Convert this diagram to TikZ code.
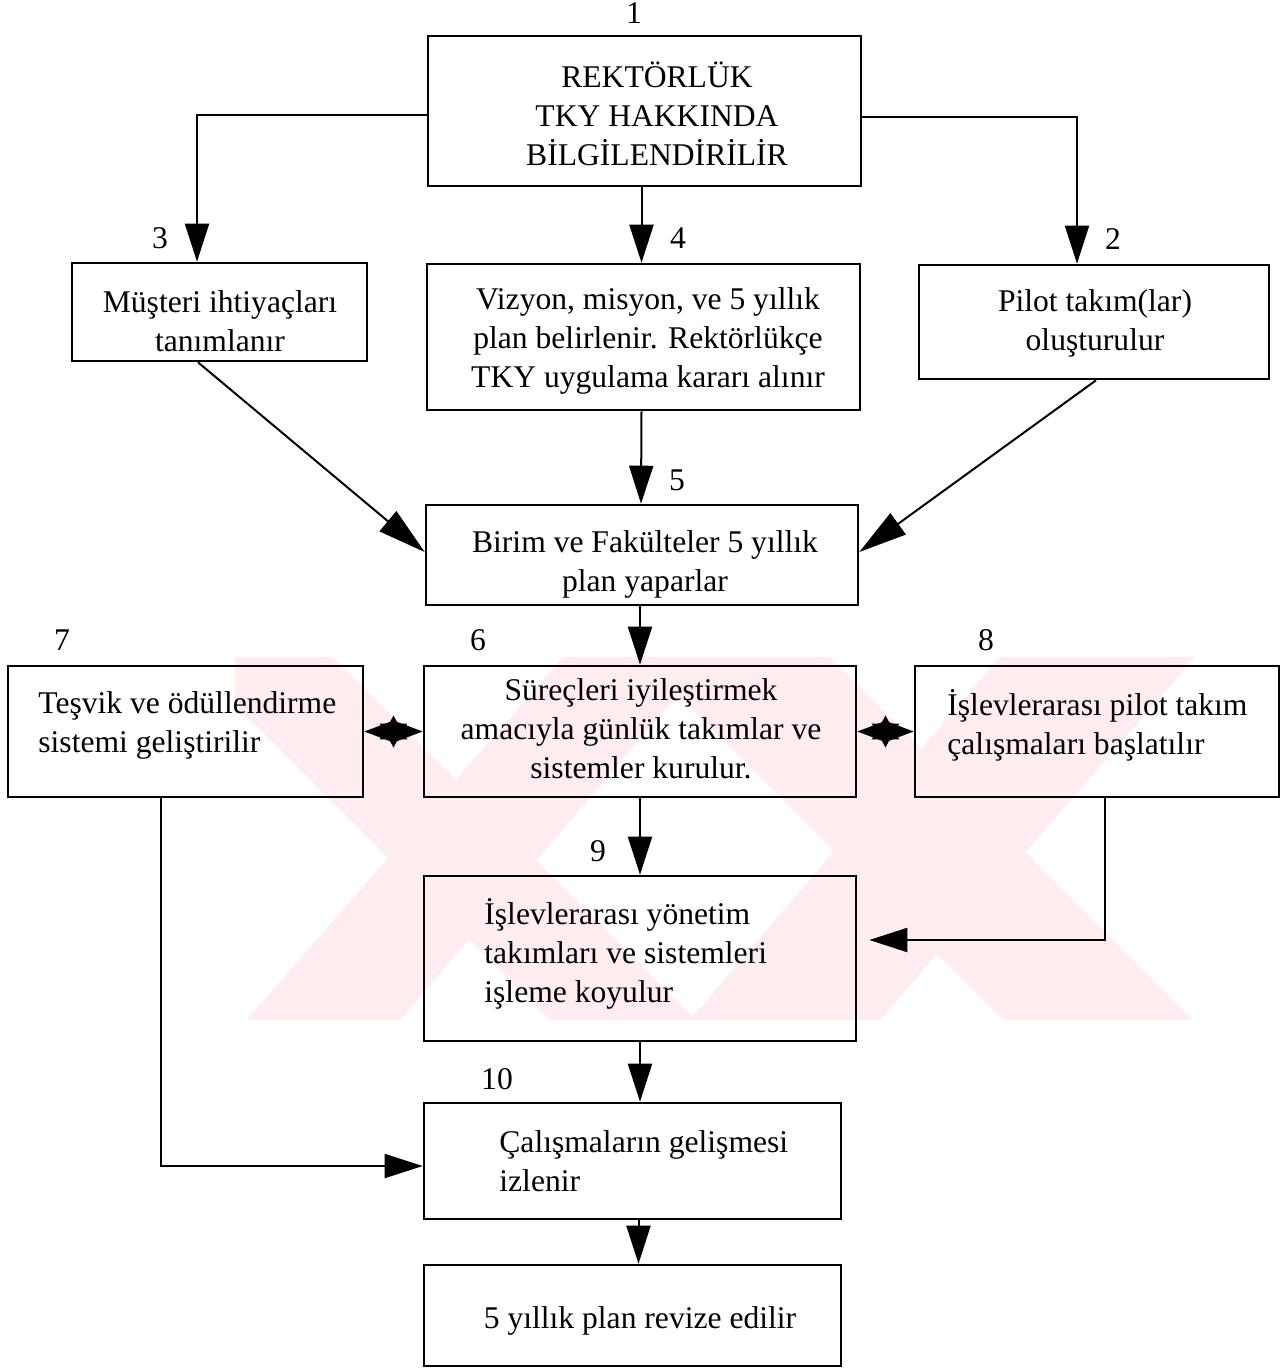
\documentclass[tikz,border=0pt]{standalone}
\usepackage{fontspec}
\setmainfont{Liberation Serif}
\usetikzlibrary{arrows.meta,shapes.geometric}
\definecolor{wmpink}{RGB}{254,236,239}
\begin{document}
\begin{tikzpicture}[x=0.5pt,y=-0.5pt,
  box/.style={draw, line width=1.3pt, inner sep=0pt},
  lbl/.style={font=\fontsize{15.8pt}{19.5pt}\selectfont, inner sep=0pt, align=center},
  lbll/.style={font=\fontsize{15.8pt}{19.5pt}\selectfont, inner sep=0pt, align=left, anchor=west},
  num/.style={font=\fontsize{15.8pt}{19.5pt}\selectfont, inner sep=0pt},
  link/.style={line width=1pt, -{Triangle[length=19pt,width=12pt]}},
  slant/.style={line width=1pt, -{Triangle[length=24pt,width=13pt]}},
  twoway/.style={line width=1pt, {Triangle[length=15pt,width=11pt]}-{Triangle[length=15pt,width=11pt]}},
  burst/.style={star, star points=6, star point ratio=1.8, fill, draw=none, inner sep=0pt, minimum size=16pt}]
\useasboundingbox (0,0) rectangle (1287,1371);
\fill[white] (0,0) rectangle (1287,1371);

% pale background emblem
\begin{scope}
  \clip (235,657) rectangle (1195,1020);
  \fill[wmpink] (187,657) -- (333,657) -- (696,1020) -- (550,1020) -- cycle;
  \fill[wmpink] (563,657) -- (710,657) -- (400,1020) -- (247,1020) -- cycle;
  \fill[wmpink] (640,657) -- (830,657) -- (1193,1020) -- (1003,1020) -- cycle;
  \fill[wmpink] (1000,657) -- (1195,657) -- (880,1020) -- (690,1020) -- cycle;
\end{scope}

% boxes
\node[box, minimum width=216.5pt, minimum height=75pt]   (b1)  at (644.5,111) {};
\node[box, minimum width=147.5pt, minimum height=49pt]   (b3)  at (219.5,312) {};
\node[box, minimum width=216.5pt, minimum height=73pt]   (b4)  at (643.5,337) {};
\node[box, minimum width=175pt,   minimum height=57pt]   (b2)  at (1094,322) {};
\node[box, minimum width=216pt,   minimum height=50pt]   (b5)  at (642,555) {};
\node[box, minimum width=177.5pt, minimum height=65.5pt] (b7)  at (185.5,731.5) {};
\node[box, minimum width=216pt,   minimum height=65.5pt] (b6)  at (640,731.5) {};
\node[box, minimum width=182pt,   minimum height=65.5pt] (b8)  at (1097,731.5) {};
\node[box, minimum width=216pt,   minimum height=82.5pt] (b9)  at (640,958.5) {};
\node[box, minimum width=208.5pt, minimum height=58pt]   (b10) at (632.5,1161) {};
\node[box, minimum width=208.5pt, minimum height=50.5pt] (b11) at (632.5,1315.5) {};

% box texts
\node[lbl] (t1) at (657,114) {REKTÖRLÜK\\TKY HAKKINDA\\BİLGİLENDİRİLİR};
\node[lbl] (t3) at (220,321) {Müşteri ihtiyaçları\\tanımlanır};
\node[lbl] (t4) at (648,341) {Vizyon, misyon, ve 5 yıllık\\plan belirlenir. Rektörlükçe\\TKY uygulama kararı alınır};
\node[lbl] (t2) at (1095,323) {Pilot takım(lar)\\oluşturulur};
\node[lbl] (t5) at (645,564) {Birim ve Fakülteler 5 yıllık\\plan yaparlar};
\node[lbll] (t7) at (38,725) {Teşvik ve ödüllendirme\\sistemi geliştirilir};
\node[lbl] (t6) at (641,729) {Süreçleri iyileştirmek\\amacıyla günlük takımlar ve\\sistemler kurulur.};
\node[lbll] (t8) at (947,725) {İşlevlerarası pilot takım\\çalışmaları başlatılır};
\node[lbll] (t9) at (484,954) {İşlevlerarası yönetim\\takımları ve sistemleri\\işleme koyulur};
\node[lbll] (t10) at (499,1161) {Çalışmaların gelişmesi\\izlenir};
\node[lbl] (t11) at (640,1321) {5 yıllık plan revize edilir};

% step numbers
\node[num] (n1)  at (634,13)   {1};
\node[num] (n3)  at (160,238)  {3};
\node[num] (n4)  at (678,238)  {4};
\node[num] (n2)  at (1113,239) {2};
\node[num] (n5)  at (677,480)  {5};
\node[num] (n7)  at (62,640)   {7};
\node[num] (n6)  at (478,640)  {6};
\node[num] (n8)  at (986,640)  {8};
\node[num] (n9)  at (598,851)  {9};
\node[num] (n10) at (497,1079) {10};

% connectors
\draw[link] ([yshift=-2pt]b1.west) -| ([xshift=-11.25pt]b3.north);
\draw[link] ([yshift=-3pt]b1.east) -| ([xshift=-8.5pt]b2.north);
\draw[link] ([xshift=-1.5pt]b1.south) -- ([xshift=-1pt]b4.north);
\draw[slant] ([xshift=-10.75pt]b3.south) -- ([yshift=1.5pt]b5.west);
\draw[slant] ([xshift=1pt]b2.south) -- ([yshift=1.5pt]b5.east);
\draw[link] ([xshift=-1pt]b4.south) -- ([xshift=-0.5pt]b5.north);
\draw[link] ([xshift=-1pt]b5.south) -- (b6.north);
\draw[twoway] (b7.east) -- node[burst] (s76) {} (b6.west);
\draw[twoway] (b6.east) -- node[burst] (s68) {} (b8.west);
\draw[link] (b6.south) -- (b9.north);
\draw[link] ([xshift=4pt]b8.south) |- ([xshift=6pt,yshift=9.25pt]b9.east);
\draw[link] (b9.south) -- (b9.south |- b10.north);
\draw[link] ([xshift=-12.25pt]b7.south) |- ([yshift=-2.5pt]b10.west);
\draw[link] ([xshift=3pt]b10.south) -- ([xshift=3pt]b11.north);
\end{tikzpicture}
\end{document}
